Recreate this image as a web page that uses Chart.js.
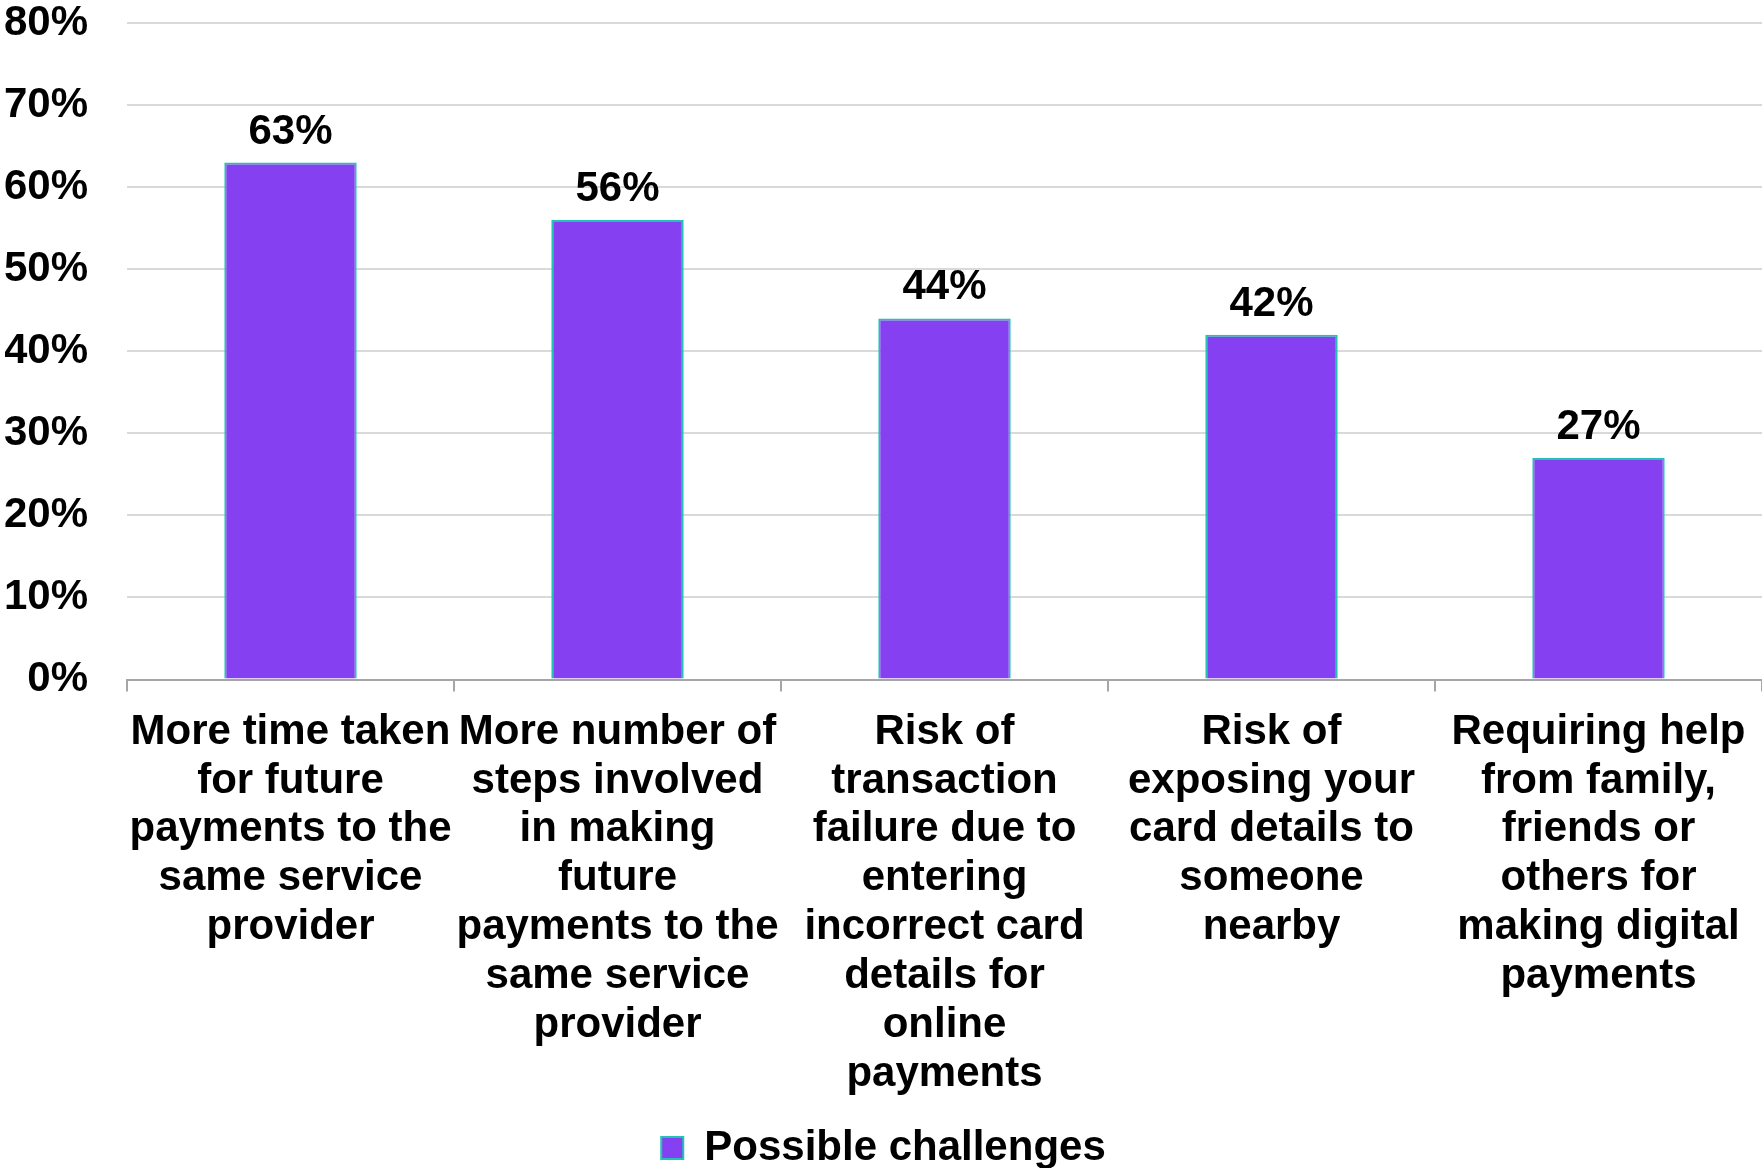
<!DOCTYPE html>
<html>
<head>
<meta charset="utf-8">
<script src="https://cdn.jsdelivr.net/npm/chart.js@4"></script>
<style>
    html, body { margin: 0; padding: 0; background: #fff; }
    #wrap { width: 1762px; height: 1168px; position: relative; }
</style>
</head>
<body>
<div id="wrap"><canvas id="grafico"></canvas></div>
<script>
const categorias = [
    ["More time taken", "for future", "payments to the", "same service", "provider"],
    ["More number of", "steps involved", "in making", "future", "payments to the", "same service", "provider"],
    ["Risk of", "transaction", "failure due to", "entering", "incorrect card", "details for", "online", "payments"],
    ["Risk of", "exposing your", "card details to", "someone", "nearby"],
    ["Requiring help", "from family,", "friends or", "others for", "making digital", "payments"]
];
const valores = [63, 56, 44, 42, 27];
const serieNome = 'Possible challenges';
const yTicks = [0, 10, 20, 30, 40, 50, 60, 70, 80];

const fonte = '"Liberation Sans", Arial, sans-serif';

// rótulos de valor acima das barras
const rotulosPlugin = {
    id: 'rotulos',
    afterDatasetsDraw(chart) {
        const ctx = chart.ctx;
        const meta = chart.getDatasetMeta(0);
        ctx.save();
        ctx.font = 'bold 42px ' + fonte;
        ctx.fillStyle = '#000';
        ctx.textAlign = 'center';
        ctx.textBaseline = 'alphabetic';
        meta.data.forEach((bar, i) => {
            ctx.fillText(valores[i] + '%', bar.x, bar.y - 19);
        });
        ctx.restore();
    }
};

const ctx = document.getElementById('grafico').getContext('2d');
new Chart(ctx, {
    type: 'bar',
    data: {
        labels: categorias,
        datasets: [{
            label: serieNome,
            data: valores,
            backgroundColor: '#8540f2',
            borderColor: '#22c3b4',
            borderWidth: 2,
            categoryPercentage: 1.0,
            barPercentage: 0.405
        }]
    },
    options: {
        responsive: true,
        maintainAspectRatio: false,
        animation: false,
        layout: { padding: { left: 5, right: 0, top: 0, bottom: -11 } },
        plugins: {
            legend: {
                display: true,
                position: 'bottom',
                labels: {
                    color: '#000',
                    font: { family: fonte, size: 42, weight: 'bold' },
                    boxWidth: 22,
                    boxHeight: 22,
                    padding: 12
                }
            },
            tooltip: { enabled: false }
        },
        scales: {
            x: {
                afterFit: (axis) => { axis.paddingLeft = 0; axis.paddingRight = 0; },
                grid: {
                    offset: true,
                    drawOnChartArea: false,
                    drawTicks: true,
                    tickLength: 12,
                    color: '#a6a6a6',
                    lineWidth: 2
                },
                border: { display: true, color: '#a6a6a6', width: 2 },
                ticks: {
                    autoSkip: false,
                    maxRotation: 0,
                    minRotation: 0,
                    padding: 16,
                    color: '#000',
                    font: { family: fonte, size: 42, weight: 'bold', lineHeight: 1.165 }
                }
            },
            y: {
                min: 0,
                max: 80,
                afterBuildTicks: (axis) => { axis.ticks = yTicks.map(v => ({ value: v })); },
                afterFit: (axis) => {
                    axis.width = 122;
                    axis.paddingTop = 23;
                    axis.paddingBottom = 21;
                },
                grid: {
                    color: '#d9d9d9',
                    lineWidth: 2,
                    drawTicks: false
                },
                border: { display: false },
                ticks: {
                    padding: 39,
                    color: '#000',
                    font: { family: fonte, size: 42, weight: 'bold' },
                    callback: (v) => v + '%'
                }
            }
        }
    },
    plugins: [rotulosPlugin]
});
</script>
</body>
</html>
